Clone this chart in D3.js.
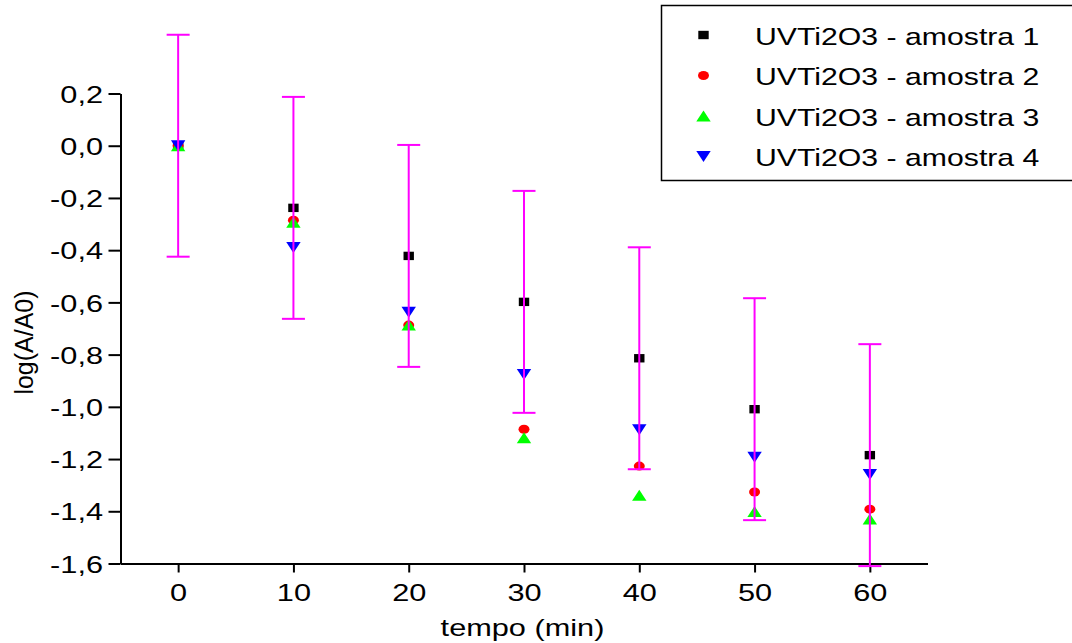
<!DOCTYPE html>
<html>
<head>
<meta charset="utf-8">
<script src="https://cdn.jsdelivr.net/npm/d3@7"></script>
<style>
  body { margin: 0; background: #fff; }
  svg { display: block; font-family: "Liberation Sans", Arial, sans-serif; }
</style>
</head>
<body>
<svg id="chart" width="1072" height="643"></svg>
<script>
// data
const tempo = [0, 10, 20, 30, 40, 50, 60];
const amostra1 = [0, -0.238, -0.422, -0.598, -0.814, -1.009, -1.185];
const amostra2 = [0, -0.285, -0.687, -1.086, -1.227, -1.326, -1.392];
const amostra3 = [0, -0.293, -0.687, -1.118, -1.339, -1.401, -1.43];
const amostra4 = [0, -0.39, -0.638, -0.876, -1.088, -1.193, -1.259];
const erro1 = [0.425, 0.425, 0.425, 0.425, 0.425, 0.425, 0.425];

const seriesNames = [
  "UVTi2O3 - amostra 1",
  "UVTi2O3 - amostra 2",
  "UVTi2O3 - amostra 3",
  "UVTi2O3 - amostra 4",
];
const seriesColors = ["#000000", "#ff0000", "#00ff00", "#0000ff"];
const seriesShapes = ["square", "circle", "up", "down"];
const xTicks = [0, 10, 20, 30, 40, 50, 60];
const yTicks = [0.2, 0, -0.2, -0.4, -0.6, -0.8, -1.0, -1.2, -1.4, -1.6];

const sx = 1.28; // horizontal stretch of the text in the original

const svg = d3.select("#chart");

const x = d3.scaleLinear().domain([-5, 65]).range([120.5, 927.5]);
const y = d3.scaleLinear().domain([-1.6, 0.2]).range([563.5, 93.5]);

function shapePath(shape) {
  if (shape == "square") return "M-5.2,-4.2H5.2V4.2H-5.2Z";
  if (shape == "circle") return "M-5.5,0A5.5,4.5 0 1,0 5.5,0A5.5,4.5 0 1,0 -5.5,0Z";
  if (shape == "up") return "M0,-5.5L7.2,5.5L-7.2,5.5Z";
  return "M0,5.5L7.2,-5.5L-7.2,-5.5Z";
}

// axes
const fmt = (d) => d3.format(".1f")(d).replace(".", ",").replace("−", "-");

const yMinor = d3.range(-16, 3).map((d) => d / 10).filter((d) => Math.abs(Math.round(d * 10)) % 2 == 1);
const xMinor = [-5, 5, 15, 25, 35, 45, 55, 65];

const gy = svg.append("g").attr("transform", "translate(120.5,0)");
gy.call(d3.axisLeft(y).tickValues(yMinor).tickSize(7).tickSizeOuter(0).tickFormat(""));
gy.call(d3.axisLeft(y).tickValues(yTicks).tickSize(12).tickSizeOuter(0).tickPadding(5.5).tickFormat(fmt));

const gx = svg.append("g").attr("transform", "translate(0,563.5)");
gx.call(d3.axisBottom(x).tickValues(xMinor).tickSize(5).tickSizeOuter(0).tickFormat(""));
gx.call(d3.axisBottom(x).tickValues(xTicks).tickSize(9).tickSizeOuter(0).tickPadding(11).tickFormat(d3.format("d")));

svg.selectAll(".domain, .tick line").attr("stroke", "#000").attr("stroke-width", 2);
svg.selectAll(".tick text")
  .attr("font-size", 24)
  .attr("font-family", "Liberation Sans, Arial, sans-serif")
  .attr("fill", "#000");
gy.selectAll(".tick text").attr("dy", "0.36em").each(function () {
  d3.select(this).attr("x", +this.getAttribute("x") / sx).attr("transform", `scale(${sx},1)`);
});
gx.selectAll(".tick text").attr("transform", `scale(${sx},1)`);

// axis titles
svg.append("text")
  .attr("transform", `translate(522.5,636) scale(${sx},1)`)
  .attr("text-anchor", "middle")
  .attr("font-size", 24)
  .text("tempo (min)");

svg.append("text")
  .attr("transform", "translate(33,342.5) rotate(-90)")
  .attr("text-anchor", "middle")
  .attr("font-size", 25)
  .text("log(A/A0)");

// markers
const allSeries = [amostra1, amostra2, amostra3, amostra4];
allSeries.forEach(function (vals, i) {
  svg.append("g")
    .selectAll("path")
    .data(vals)
    .join("path")
    .attr("d", shapePath(seriesShapes[i]))
    .attr("transform", (d, j) => `translate(${x(tempo[j])},${y(d)})`)
    .attr("fill", seriesColors[i]);
});

// error bars of amostra 1 (drawn on top)
const eb = svg.append("g").attr("stroke", "#ff00ff").attr("stroke-width", 2).attr("fill", "none");
tempo.forEach(function (t, j) {
  const top = y(amostra1[j] + erro1[j]);
  const bot = y(amostra1[j] - erro1[j]);
  eb.append("line").attr("x1", x(t)).attr("x2", x(t)).attr("y1", top).attr("y2", bot);
  eb.append("line").attr("x1", x(t) - 11.5).attr("x2", x(t) + 11.5).attr("y1", top).attr("y2", top);
  eb.append("line").attr("x1", x(t) - 11.5).attr("x2", x(t) + 11.5).attr("y1", bot).attr("y2", bot);
});

// legend
const legend = svg.append("g");
legend.append("rect")
  .attr("x", 661.5).attr("y", 5.5)
  .attr("width", 430).attr("height", 175)
  .attr("fill", "#fff").attr("stroke", "#000").attr("stroke-width", 1.5);

seriesNames.forEach(function (name, i) {
  const cy = 35 + i * 40.5;
  legend.append("path")
    .attr("d", shapePath(seriesShapes[i]))
    .attr("transform", `translate(703.5,${cy})`)
    .attr("fill", seriesColors[i]);
  legend.append("text")
    .attr("transform", `translate(755,${cy + 9.5}) scale(${sx - 0.02},1)`)
    .attr("font-size", 24)
    .text(name);
});
</script>
</body>
</html>
